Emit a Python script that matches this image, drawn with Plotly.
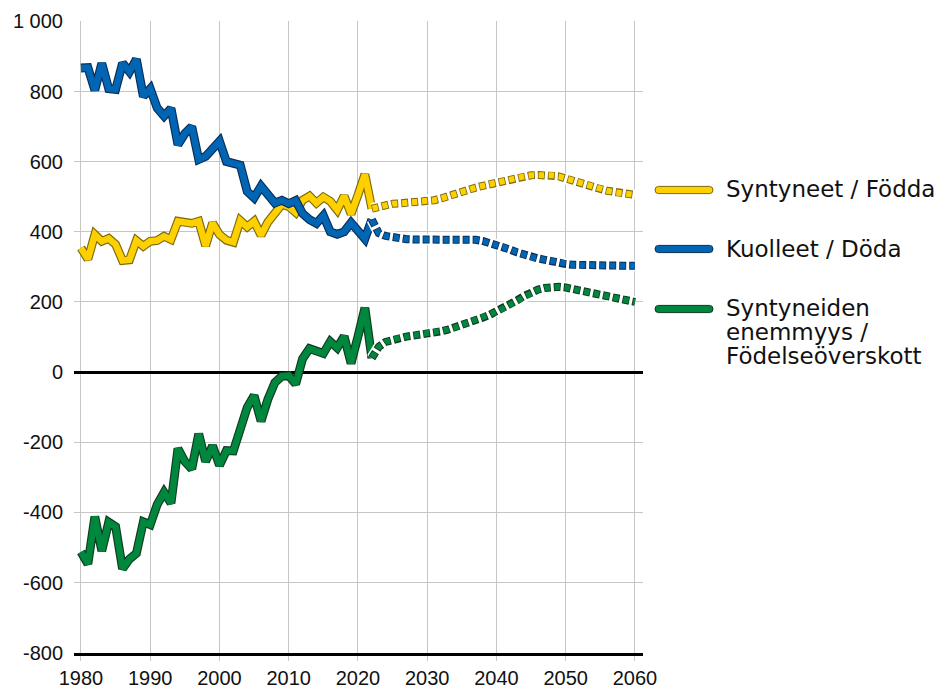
import plotly.graph_objects as go

# recorded years and projection years
years = list(range(1980, 2023))
proj_years = list(range(2022, 2061))

births = [354, 322, 392, 373, 381, 364, 318, 320, 375, 359,
          373, 375, 387, 378, 430, 425, 424, 430, 360, 425,
          392, 376, 370, 432, 414, 430, 390, 428, 452, 478,
          472, 455, 490, 502, 482, 499, 487, 462, 502, 451,
          505, 564, 466]
deaths = [867, 868, 804, 880, 808, 806, 881, 856, 892, 786,
          808, 753, 730, 752, 648, 680, 700, 606, 615, 635,
          658, 600, 595, 590, 515, 497, 530, 505, 482, 490,
          480, 489, 452, 435, 424, 446, 400, 393, 400, 426,
          403, 380, 435]
surplus = [-513, -547, -412, -510, -428, -441, -561, -533, -517, -427,
           -435, -378, -343, -374, -218, -255, -276, -176, -255, -210,
           -266, -224, -225, -158, -101, -67, -140, -77, -30, -12,
           -10, -34, 38, 67, 58, 53, 87, 69, 102, 25,
           102, 183, 40]

births_proj = [466, 472, 477, 480, 481, 482, 484, 485, 487, 490,
               495, 502, 508, 515, 521, 526, 531, 536, 540, 546,
               551, 555, 558, 561, 562, 562, 561, 558, 552, 545,
               538, 532, 527, 522, 517, 513, 510, 507, 505]
deaths_proj = [435, 396, 388, 384, 381, 379, 378, 378, 378, 378,
               379, 380, 381, 380, 379, 377, 374, 369, 363, 356,
               349, 341, 334, 328, 324, 320, 315, 311, 308, 306,
               305, 304, 304, 303, 303, 303, 303, 303, 303]
surplus_proj = [40, 72, 86, 93, 98, 101, 104, 106, 108, 111,
                116, 121, 127, 134, 141, 148, 155, 163, 172, 182,
                193, 205, 217, 227, 235, 240, 243, 243, 241, 237,
                232, 227, 222, 218, 214, 210, 206, 203, 200]

labels = [
    ["Syntyneet / Födda"],
    ["Kuolleet / Döda"],
    ["Syntyneiden", "enemmyys /", "Födelseöverskott"],
]

x_ticks = list(range(1980, 2061, 10))
y_ticks = list(range(-800, 1001, 200))
y_ticktext = ["-800", "-600", "-400", "-200", "0", "200", "400", "600", "800", "1 000"]

# (fill, outline)
colors = [("#FFD000", "#7d6a0a"), ("#0066B3", "#0b2c57"), ("#00873E", "#0f3a1f")]
series = [(births, births_proj), (deaths, deaths_proj), (surplus, surplus_proj)]

# plot area in page pixels; the page body adds an 8px margin
PAGE_W, PAGE_H, OFF = 945, 689, 8
L, R, T, B = 74, 643, 21, 653


def px_x(px):
    return (px - L) / (R - L)


def px_y(py):
    return (B - py) / (B - T)


fig = go.Figure()

for (hist, _), (fill, edge) in zip(series, colors):
    fig.add_trace(go.Scatter(x=years, y=hist, mode="lines",
                             line=dict(color=edge, width=8.8), hoverinfo="skip"))
    fig.add_trace(go.Scatter(x=years, y=hist, mode="lines",
                             line=dict(color=fill, width=6.5), hoverinfo="skip"))

for (_, proj), (fill, edge) in zip(series, colors):
    fig.add_trace(go.Scatter(x=proj_years, y=proj, mode="lines",
                             line=dict(color="white", width=11), hoverinfo="skip"))
    fig.add_trace(go.Scatter(x=proj_years, y=proj, mode="lines",
                             line=dict(color=edge, width=8, dash="7px,3px"),
                             hoverinfo="skip"))
    fig.add_trace(go.Scatter(x=proj_years, y=proj, mode="lines",
                             line=dict(color=fill, width=6, dash="0px,0.8px,5.4px,3.8px"),
                             hoverinfo="skip"))

# hand-drawn legend
shapes = []
annotations = []
line_y = [190, 249, 309]
text_y = [[189], [249], [308, 332, 356]]
for (fill, edge), ly, ty, lines in zip(colors, line_y, text_y, labels):
    x0, x1, r = 655, 713, 3.6
    top, bot = ly - r, ly + r
    path = (
        f"M{px_x(x0 + r)},{px_y(top)} L{px_x(x1 - r)},{px_y(top)} "
        f"Q{px_x(x1)},{px_y(top)} {px_x(x1)},{px_y(ly)} "
        f"Q{px_x(x1)},{px_y(bot)} {px_x(x1 - r)},{px_y(bot)} "
        f"L{px_x(x0 + r)},{px_y(bot)} "
        f"Q{px_x(x0)},{px_y(bot)} {px_x(x0)},{px_y(ly)} "
        f"Q{px_x(x0)},{px_y(top)} {px_x(x0 + r)},{px_y(top)} Z"
    )
    shapes.append(dict(type="path", path=path, xref="paper", yref="paper",
                       fillcolor=fill, line=dict(color=edge, width=1)))
    for t, yy in zip(lines, ty):
        annotations.append(dict(text=t, x=px_x(724), y=px_y(yy), xref="paper", yref="paper",
                                xanchor="left", yanchor="middle", showarrow=False,
                                font=dict(family="DejaVu Sans", size=23, color="#111111")))

tick_font = dict(family="Liberation Sans, Arial, sans-serif", size=20, color="#111111")

fig.update_layout(
    width=PAGE_W - OFF, height=PAGE_H - OFF,
    margin=dict(l=L - OFF, r=PAGE_W - R, t=T - OFF, b=PAGE_H - B, autoexpand=False),
    paper_bgcolor="white", plot_bgcolor="white",
    showlegend=False,
    shapes=shapes,
    annotations=annotations,
    xaxis=dict(
        range=[1978.99, 2061.16], tickvals=x_ticks, tickfont=tick_font,
        showgrid=True, gridcolor="#c6c6c6", gridwidth=1.3,
        ticks="outside", ticklen=5, tickcolor="#c6c6c6", tickwidth=1.3,
        showline=True, linecolor="black", linewidth=3, zeroline=False,
        automargin=False,
    ),
    yaxis=dict(
        range=[-801, 1001], tickvals=y_ticks, ticktext=y_ticktext, tickfont=tick_font,
        showgrid=True, gridcolor="#c6c6c6", gridwidth=1.3,
        zeroline=True, zerolinecolor="black", zerolinewidth=3,
        ticks="", ticklabelstandoff=10, showline=False, automargin=False,
    ),
)

fig.write_html("out.html")
